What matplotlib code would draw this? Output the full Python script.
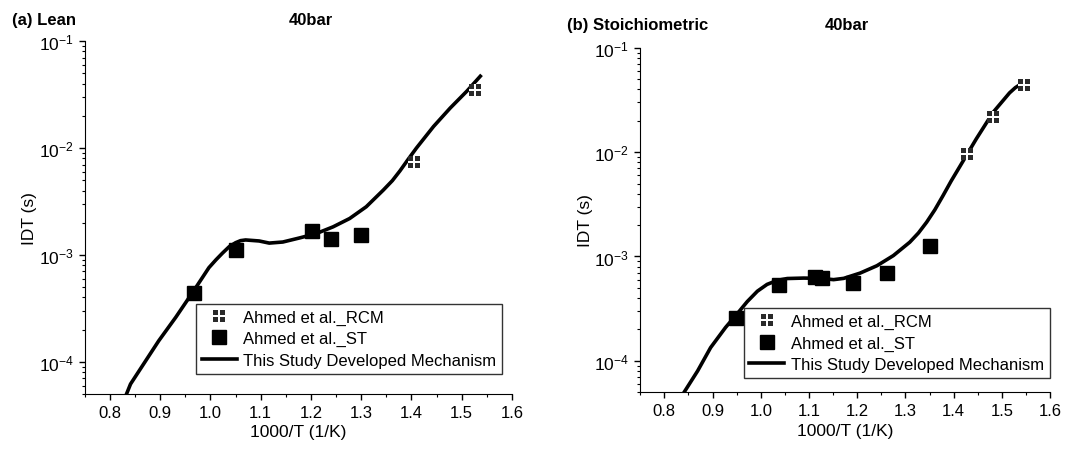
import numpy as np
import matplotlib.pyplot as plt
from matplotlib.path import Path
from matplotlib.ticker import LogLocator, MultipleLocator, NullFormatter

plt.rcParams["font.family"] = ["Liberation Sans", "DejaVu Sans"]
plt.rcParams["mathtext.fontset"] = "custom"
plt.rcParams["mathtext.rm"] = "Liberation Sans"

# (a) lean, 40 bar
lean_rcm_x = [1.405, 1.527]
lean_rcm_y = [7.4e-3, 3.45e-2]
lean_st_x = [0.967, 1.050, 1.202, 1.240, 1.299]
lean_st_y = [4.4e-4, 1.10e-3, 1.68e-3, 1.42e-3, 1.55e-3]
lean_mech_x = [0.833, 0.841, 0.871, 0.897, 0.931, 0.967, 0.997, 1.011, 1.024, 1.037,
               1.050, 1.060, 1.070, 1.097, 1.117, 1.144, 1.177, 1.210, 1.244, 1.277,
               1.310, 1.344, 1.362, 1.377, 1.394, 1.410, 1.444, 1.477, 1.510, 1.537]
lean_mech_y = [5.0e-5, 6.2e-5, 1.02e-4, 1.57e-4, 2.61e-4, 4.64e-4, 7.6e-4, 9.0e-4, 1.04e-3, 1.19e-3,
               1.30e-3, 1.36e-3, 1.38e-3, 1.35e-3, 1.29e-3, 1.32e-3, 1.44e-3, 1.58e-3, 1.83e-3, 2.19e-3,
               2.82e-3, 4.04e-3, 4.95e-3, 6.1e-3, 7.9e-3, 1.0e-2, 1.59e-2, 2.36e-2, 3.39e-2, 4.69e-2]

# (b) stoichiometric, 40 bar
sto_rcm_x = [1.428, 1.482, 1.547]
sto_rcm_y = [9.5e-3, 2.16e-2, 4.45e-2]
sto_st_x = [0.949, 1.037, 1.112, 1.126, 1.192, 1.261, 1.351]
sto_st_y = [2.57e-4, 5.36e-4, 6.31e-4, 6.17e-4, 5.56e-4, 6.89e-4, 1.27e-3]
sto_mech_x = [0.841, 0.869, 0.896, 0.927, 0.949, 0.972, 0.993, 1.013, 1.034, 1.055,
              1.089, 1.124, 1.151, 1.172, 1.206, 1.241, 1.275, 1.309, 1.327, 1.344,
              1.361, 1.378, 1.395, 1.413, 1.447, 1.482, 1.516, 1.528, 1.538]
sto_mech_y = [5.0e-5, 8.0e-5, 1.34e-4, 2.09e-4, 2.75e-4, 3.70e-4, 4.65e-4, 5.40e-4, 5.90e-4, 6.15e-4,
              6.21e-4, 6.17e-4, 6.00e-4, 6.17e-4, 6.93e-4, 8.16e-4, 1.02e-3, 1.37e-3, 1.68e-3, 2.13e-3,
              2.80e-3, 3.83e-3, 5.3e-3, 7.3e-3, 1.34e-2, 2.41e-2, 3.70e-2, 4.15e-2, 4.45e-2]


def quad_box(gap=0.09):
    # square split into four cells by a thin cross
    cells = []
    for x0, y0 in [(-1, -1), (gap, -1), (-1, gap), (gap, gap)]:
        w = 1 - gap
        cells.append(Path([(x0, y0), (x0 + w, y0), (x0 + w, y0 + w), (x0, y0 + w), (x0, y0)],
                          [Path.MOVETO, Path.LINETO, Path.LINETO, Path.LINETO, Path.CLOSEPOLY]))
    return Path.make_compound_path(*cells)


RCM_MARKER = quad_box()

fig = plt.figure(figsize=(10.87, 4.52), dpi=100)
ax1 = fig.add_axes([0.078, 0.126, 0.393, 0.781])
ax2 = fig.add_axes([0.589, 0.130, 0.377, 0.762])


def draw_panel(ax, rcm_x, rcm_y, st_x, st_y, mech_x, mech_y, leg_anchor):
    line, = ax.plot(mech_x, mech_y, color="black", lw=2.6, zorder=2,
                    solid_joinstyle="round")
    st, = ax.plot(st_x, st_y, ls="none", marker="s", ms=9.5, color="black", zorder=3)
    ax.plot(rcm_x, rcm_y, ls="none", marker="s", ms=8.5, mfc="white", mew=0, zorder=4)
    rcm, = ax.plot(rcm_x, rcm_y, ls="none", marker=RCM_MARKER, ms=9, mfc="#2a2a2a",
                   mew=0, zorder=5)
    ax.set_yscale("log")
    ax.set_xlim(0.75, 1.6)
    ax.set_ylim(5e-5, 1e-1)
    ax.xaxis.set_major_locator(MultipleLocator(0.1))
    ax.xaxis.set_minor_locator(MultipleLocator(0.05))
    ax.xaxis.set_major_formatter(plt.FuncFormatter(lambda v, p: f"{v:.1f}"))
    ax.yaxis.set_major_locator(LogLocator(base=10, numticks=10))
    ax.yaxis.set_minor_locator(LogLocator(base=10, subs=np.arange(2, 10), numticks=10))
    ax.yaxis.set_minor_formatter(NullFormatter())
    ax.spines["top"].set_visible(False)
    ax.spines["right"].set_visible(False)
    ax.tick_params(which="major", direction="out", length=4, width=1, labelsize=12, pad=4)
    ax.tick_params(which="minor", direction="out", length=2.5, width=0.8)
    ax.tick_params(axis="y", labelsize=12.5)
    ax.set_xlabel("1000/T (1/K)", fontsize=12.5, labelpad=3)
    ax.set_ylabel("IDT (s)", fontsize=12.5, labelpad=1)
    leg = ax.legend([rcm, st, line],
                    ["Ahmed et al._RCM", "Ahmed et al._ST", "This Study Developed Mechanism"],
                    loc="lower right", bbox_to_anchor=leg_anchor, borderaxespad=0,
                    fontsize=12, frameon=True, fancybox=False, edgecolor="black",
                    borderpad=0.35, labelspacing=0.4, handlelength=2.1, handletextpad=0.4)
    leg.get_frame().set_linewidth(1.0)
    return ax


draw_panel(ax1, lean_rcm_x, lean_rcm_y, lean_st_x, lean_st_y, lean_mech_x, lean_mech_y,
           (0.977, 0.057))
draw_panel(ax2, sto_rcm_x, sto_rcm_y, sto_st_x, sto_st_y, sto_mech_x, sto_mech_y,
           (1.0, 0.041))

fig.text(0.011, 0.955, "(a) Lean", fontsize=12, fontweight="bold", va="center")
fig.text(0.266, 0.955, "40bar", fontsize=12, fontweight="bold", va="center")
fig.text(0.522, 0.943, "(b) Stoichiometric", fontsize=12, fontweight="bold", va="center")
fig.text(0.759, 0.943, "40bar", fontsize=12, fontweight="bold", va="center")

fig.savefig("out.png", dpi=100)
